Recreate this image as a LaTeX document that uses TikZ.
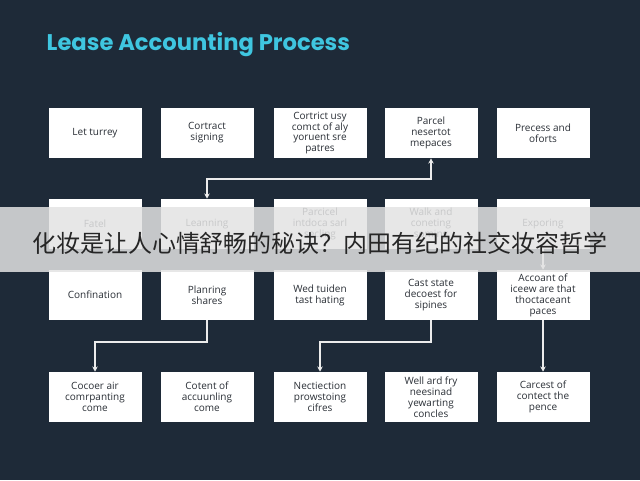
\documentclass[tikz,border=0pt]{standalone}
\usepackage{fontspec}
\setmainfont{Open Sans}
\newfontfamily\titlef{Poppins}
\newfontfamily\cjk{Noto Sans CJK SC}
\definecolor{bg}{HTML}{1E2A38}
\definecolor{ttl}{HTML}{3FC6E0}
\definecolor{txt}{HTML}{2A2F36}
\begin{document}
\begin{tikzpicture}[x=0.75pt,y=-0.75pt,
  box/.style={draw=none,fill=white,minimum width=69.75pt,minimum height=37.5pt,inner sep=1pt,align=center,font=\fontsize{7.5}{8.2}\selectfont,text=txt},
  arr/.style={draw=white!85!gray,line width=1.1pt,-{Stealth[length=4pt,width=4pt]}}]
\usetikzlibrary{arrows.meta}
\fill[bg] (0,0) rectangle (640,480);
\node[anchor=west,text=ttl,font=\titlef\bfseries\fontsize{17}{20}\selectfont] (title) at (42,45) {Lease Accounting Process};
\node[box] (a1) at (95,133) {Let turrey};
\node[box] (a2) at (207,133) {Cortract\\signing};
\node[box] (a3) at (320,133) {Cortrict usy\\comct of aly\\yoruent sre\\patres};
\node[box] (a4) at (431,133) {Parcel\\nesertot\\mepaces};
\node[box] (a5) at (543,133) {Precess and\\oforts};
\node[box] (b1) at (95,224) {Fatel};
\node[box] (b2) at (207,224) {Leanning};
\node[box] (b3) at (320,224) {Parcicel\\intdoca sarl\\secling};
\node[box] (b4) at (431,224) {Walk and\\coneting\\soming};
\node[box] (b5) at (543,224) {Exporing};
\node[box] (c1) at (95,295) {Confination};
\node[box] (c2) at (207,295) {Planring\\shares};
\node[box] (c3) at (320,295) {Wed tuiden\\tast hating};
\node[box] (c4) at (431,295) {Cast state\\decoest for\\sipines};
\node[box] (c5) at (543,295) {Accoant of\\iceew are that\\thoctaceant\\paces};
\node[box] (d1) at (95,397) {Cocoer air\\comrpanting\\come};
\node[box] (d2) at (207,397) {Cotent of\\accuunling\\come};
\node[box] (d3) at (320,397) {Nectiection\\prowstoing\\cifres};
\node[box] (d4) at (431,397) {Well ard fry\\neesinad\\yewarting\\concles};
\node[box] (d5) at (543,397) {Carcest of\\contect the\\pence};
\coordinate (k1) at (431,179);
\coordinate (k2) at (207,179);
\draw[arr] (k2) -- (k1) -- (a4.south);
\draw[arr] (k1) -- (k2) -- (b2.north);
\coordinate (m1) at (207,342); \coordinate (m2) at (95,342);
\draw[arr] (c2.south) -- (m1) -- (m2) -- (d1.north);
\coordinate (n1) at (431,342); \coordinate (n2) at (320,342);
\draw[arr] (c4.south) -- (n1) -- (n2) -- (d3.north);
\draw[arr] (c5.south) -- (d5.north);
\draw[arr] (b5.south) -- (c5.north);
% banner
\fill[white!78!gray,opacity=0.85] (0,207) rectangle (640,272);
\node[text=black!85,font=\cjk\fontsize{18}{21}\selectfont] (banner) at (320,243) {化妆是让人心情舒畅的秘诀？内田有纪的社交妆容哲学};
\end{tikzpicture}
\end{document}
